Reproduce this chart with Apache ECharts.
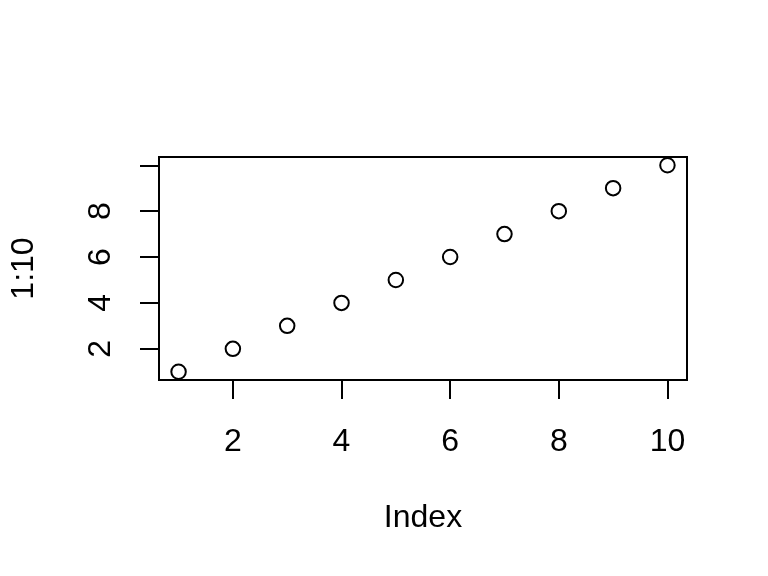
<!DOCTYPE html>
<html>
<head>
<meta charset="utf-8">
<script src="https://cdn.jsdelivr.net/npm/echarts@6/dist/echarts.min.js"></script>
<style>html,body{margin:0;padding:0;background:#fff}#c{width:768px;height:576px}</style>
</head>
<body>
<div id="c"></div>
<script>
var indexValues = [1, 2, 3, 4, 5, 6, 7, 8, 9, 10];
var yValues = [1, 2, 3, 4, 5, 6, 7, 8, 9, 10];
var xTicks = [2, 4, 6, 8, 10];
var xTickLabels = [2, 4, 6, 8, 10];
var yTicks = [2, 4, 6, 8, 10];
var yTickLabels = [2, 4, 6, 8];
var xTitle = 'Index';
var yTitle = '1:10';

var font = '"Liberation Sans", Arial, Helvetica, sans-serif';
var chart = echarts.init(document.getElementById('c'), null, {renderer: 'canvas'});
chart.setOption({
  backgroundColor: '#fff',
  animation: false,
  grid: {left: 157, right: 81, top: 157, bottom: 196, show: true, borderColor: '#000', borderWidth: 2, backgroundColor: 'transparent'},
  xAxis: {
    type: 'value', min: 0.64, max: 10.36,
    axisLine: {show: false},
    splitLine: {show: false},
    axisTick: {show: true, inside: false, length: 19, lineStyle: {color: '#000', width: 2}, customValues: xTicks},
    axisLabel: {show: true, customValues: xTickLabels, margin: 46, color: '#000', fontSize: 32, fontFamily: font},
    name: xTitle, nameLocation: 'middle', nameGap: 122,
    nameTextStyle: {color: '#000', fontSize: 32, fontFamily: font}
  },
  yAxis: {
    type: 'value', min: 0.64, max: 10.36,
    axisLine: {show: false},
    splitLine: {show: false},
    axisTick: {show: true, inside: false, length: 19, lineStyle: {color: '#000', width: 2}, customValues: yTicks},
    axisLabel: {show: true, customValues: yTickLabels, rotate: 90, margin: 42, color: '#000', fontSize: 32, fontFamily: font},
    name: yTitle, nameLocation: 'middle', nameGap: 119, nameRotate: 90,
    nameTextStyle: {color: '#000', fontSize: 32, fontFamily: font}
  },
  series: [{
    type: 'scatter',
    data: indexValues.map(function (x, i) { return [x, yValues[i]]; }),
    symbol: 'circle', symbolSize: 14.5,
    itemStyle: {color: 'transparent', borderColor: '#000', borderWidth: 2, opacity: 1},
    emphasis: {disabled: true}
  }]
});
</script>
</body>
</html>
